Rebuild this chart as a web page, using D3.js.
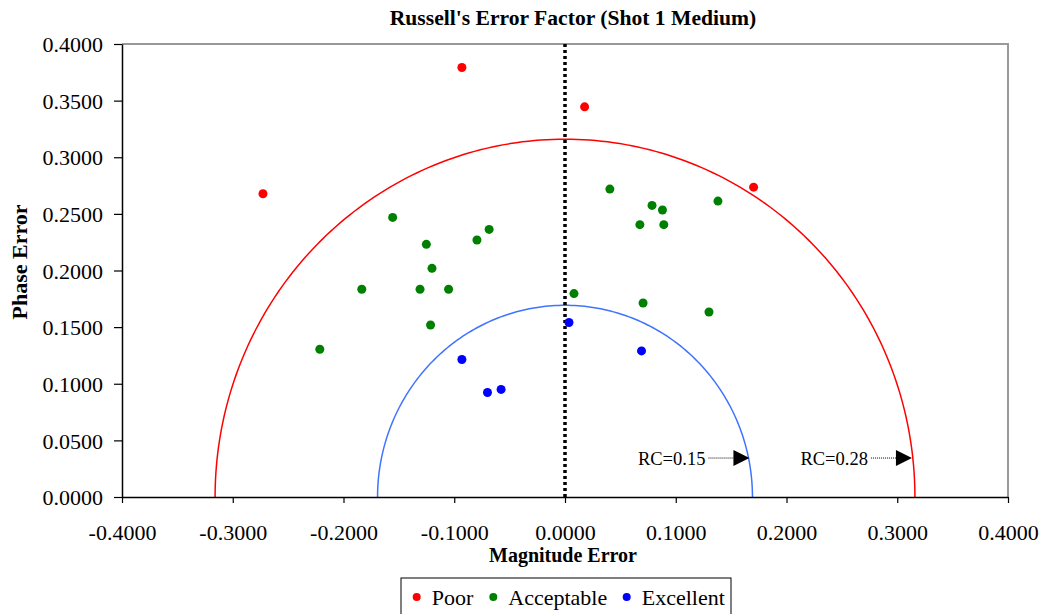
<!DOCTYPE html>
<html>
<head>
<meta charset="utf-8">
<script src="https://cdn.jsdelivr.net/npm/d3@7"></script>
<style>
  html, body { margin: 0; padding: 0; background: #fff; }
  svg { display: block; font-family: "Liberation Serif", "Times New Roman", serif; }
</style>
</head>
<body>
<svg id="chart" width="1047" height="614"></svg>
<script>
// ---- data ----
const titleText = "Russell's Error Factor (Shot 1 Medium)";
const xLabel = "Magnitude Error";
const yLabel = "Phase Error";
const xTicks = [-0.4, -0.3, -0.2, -0.1, 0, 0.1, 0.2, 0.3, 0.4];
const yTicks = [0, 0.05, 0.1, 0.15, 0.2, 0.25, 0.3, 0.35, 0.4];

const poorX = [-0.0931, 0.0177, -0.2727, 0.1703];
const poorY = [0.3792, 0.3445, 0.2678, 0.2736];

const acceptableX = [-0.1556, -0.1252, -0.0795, -0.0685, -0.1201, -0.1835, -0.1309, -0.1051, -0.1214, -0.2214,
                     0.0405, 0.0786, 0.0880, 0.0676, 0.0892, 0.1381, 0.0081, 0.0705, 0.1300];
const acceptableY = [0.2469, 0.2231, 0.2269, 0.2363, 0.2019, 0.1834, 0.1834, 0.1834, 0.1519, 0.1305,
                     0.2719, 0.2575, 0.2534, 0.2405, 0.2405, 0.2613, 0.1796, 0.1713, 0.1634];

const excellentX = [-0.0931, -0.0700, -0.0577, 0.0036, 0.0691];
const excellentY = [0.1214, 0.0923, 0.0950, 0.1541, 0.1290];

const seriesNames = ["Poor", "Acceptable", "Excellent"];
const seriesColors = ["#ff0000", "#008000", "#0000ff"];

const rcValues = [0.28, 0.15];          // Russell's comprehensive error limits
const rcColors = ["#ff0000", "#3f74ff"];
const rcLabels = ["RC=0.28", "RC=0.15"];
const arrowY = 0.0344;

// ---- layout ----
const svg = d3.select("#chart");
const L = 122, R = 1008, T = 44, B = 497;
const x = d3.scaleLinear().domain([-0.4, 0.4]).range([L, R]);
const y = d3.scaleLinear().domain([0, 0.4]).range([B, T]);
const fmt = v => (v < 0 ? "-" : "") + Math.abs(v).toFixed(4);

// plot border (top/right gray)
svg.append("path")
  .attr("d", `M${L},${T}H${R}V${B}`)
  .attr("fill", "none").attr("stroke", "#999").attr("stroke-width", 2);

// RC circles: radius = RC / sqrt(pi/4)
rcValues.forEach((rc, i) => {
  const rad = rc / Math.sqrt(Math.PI / 4);
  const angles = d3.range(0, 181).map(a => a * Math.PI / 180);
  const line = d3.line().x(a => x(rad * Math.cos(a))).y(a => y(rad * Math.sin(a)));
  svg.append("path").datum(angles).attr("d", line)
    .attr("fill", "none").attr("stroke", rcColors[i]).attr("stroke-width", 1.5);
});

// vertical dotted zero line
svg.append("line")
  .attr("x1", x(0)).attr("x2", x(0)).attr("y1", y(0.4)).attr("y2", y(0))
  .attr("stroke", "#000").attr("stroke-width", 3.5).attr("stroke-dasharray", "3,3");

// axes
const xAxis = svg.append("g").attr("transform", `translate(0,${B})`)
  .call(d3.axisBottom(x).tickValues(xTicks).tickFormat(fmt).tickSize(6).tickSizeOuter(0));
const yAxis = svg.append("g").attr("transform", `translate(${L},0)`)
  .call(d3.axisLeft(y).tickValues(yTicks).tickFormat(fmt).tickSize(8).tickSizeOuter(0));
[xAxis, yAxis].forEach(g => {
  g.select(".domain").attr("stroke", "#000").attr("stroke-width", 1.5);
  g.selectAll(".tick line").attr("stroke", "#000").attr("stroke-width", 1.2);
  g.selectAll("text").attr("font-family", "Liberation Serif, Times New Roman, serif")
    .attr("font-size", 22).attr("fill", "#000");
});
xAxis.selectAll("text").attr("dy", null).attr("y", 43);
yAxis.selectAll("text").attr("x", -19).attr("dy", "0.35em");

// RC arrows
rcValues.forEach((rc, i) => {
  const rad = rc / Math.sqrt(Math.PI / 4);
  const tip = x(rad) - 3;
  const yy = y(arrowY);
  const g = svg.append("g");
  g.append("path")
    .attr("d", `M${tip},${yy}L${tip - 16},${yy - 8}L${tip - 16},${yy + 8}Z`)
    .attr("fill", "#000");
  g.append("line").attr("x1", tip - 41).attr("x2", tip - 16).attr("y1", yy).attr("y2", yy)
    .attr("stroke", "#000").attr("stroke-width", 1).attr("stroke-dasharray", "1,1");
  g.append("text").attr("x", tip - 44).attr("y", yy).attr("dy", "0.35em")
    .attr("text-anchor", "end").attr("font-size", 18.5).text(rcLabels[i]);
});

// points
const series = [
  { xs: poorX, ys: poorY },
  { xs: acceptableX, ys: acceptableY },
  { xs: excellentX, ys: excellentY }
];
series.forEach((s, i) => {
  svg.append("g").selectAll("circle")
    .data(s.xs.map((v, j) => [v, s.ys[j]]))
    .join("circle")
    .attr("cx", d => x(d[0])).attr("cy", d => y(d[1]))
    .attr("r", 4.5).attr("fill", seriesColors[i]);
});

// titles
svg.append("text").attr("x", 573).attr("y", 25).attr("text-anchor", "middle")
  .attr("font-weight", "bold").attr("font-size", 21.6).text(titleText);
svg.append("text").attr("x", 563).attr("y", 562).attr("text-anchor", "middle")
  .attr("font-weight", "bold").attr("font-size", 20).text(xLabel);
svg.append("text").attr("transform", "translate(27,262) rotate(-90)").attr("text-anchor", "middle")
  .attr("font-weight", "bold").attr("font-size", 22).text(yLabel);

// legend
const lg = svg.append("g");
lg.append("rect").attr("x", 401).attr("y", 578).attr("width", 330).attr("height", 40)
  .attr("fill", "#fff").attr("stroke", "#000").attr("stroke-width", 1);
const legendDotX = [416.7, 493.3, 626.7];
seriesNames.forEach((n, i) => {
  lg.append("circle").attr("cx", legendDotX[i]).attr("cy", 597).attr("r", 4).attr("fill", seriesColors[i]);
  lg.append("text").attr("x", legendDotX[i] + 15).attr("y", 597).attr("dy", "0.35em")
    .attr("font-size", 22).text(n);
});
</script>
</body>
</html>
